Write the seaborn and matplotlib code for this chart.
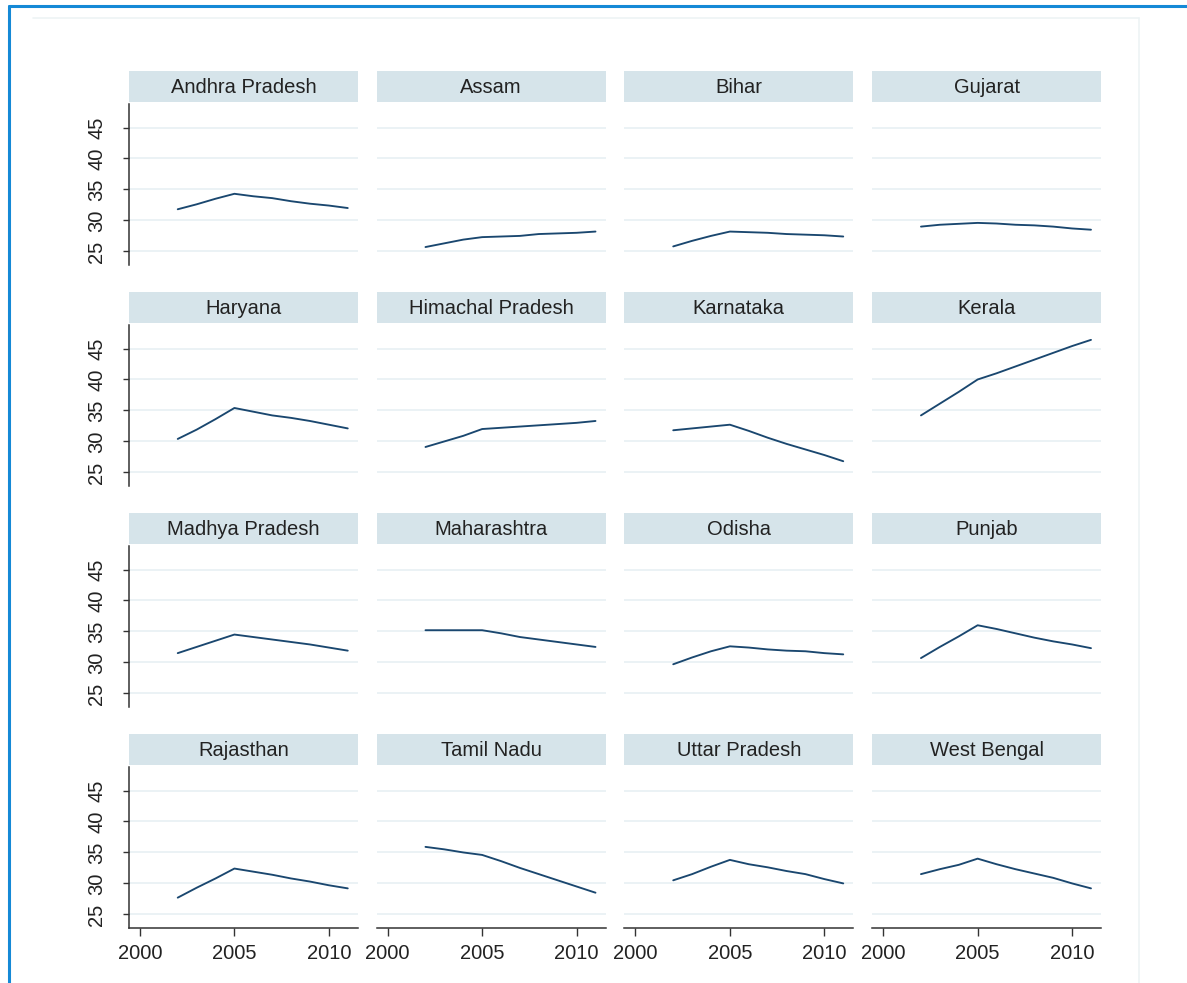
import numpy as np
import pandas as pd
import matplotlib
matplotlib.use("Agg")
import matplotlib.pyplot as plt
import seaborn as sns
from matplotlib.patches import Rectangle
from matplotlib.lines import Line2D


YEARS = [2002, 2003, 2004, 2005, 2006, 2007, 2008, 2009, 2010, 2011]

STATES = [
    "Andhra Pradesh", "Assam", "Bihar", "Gujarat",
    "Haryana", "Himachal Pradesh", "Karnataka", "Kerala",
    "Madhya Pradesh", "Maharashtra", "Odisha", "Punjab",
    "Rajasthan", "Tamil Nadu", "Uttar Pradesh", "West Bengal",
]

andhra_pradesh   = [31.8, 32.6, 33.5, 34.3, 33.9, 33.6, 33.1, 32.7, 32.4, 32.0]
assam            = [25.7, 26.3, 26.9, 27.3, 27.4, 27.5, 27.8, 27.9, 28.0, 28.2]
bihar            = [25.8, 26.7, 27.5, 28.2, 28.1, 28.0, 27.8, 27.7, 27.6, 27.4]
gujarat          = [29.0, 29.3, 29.45, 29.6, 29.5, 29.3, 29.2, 29.0, 28.7, 28.5]
haryana          = [30.4, 31.9, 33.6, 35.4, 34.8, 34.2, 33.8, 33.3, 32.7, 32.1]
himachal_pradesh = [29.1, 30.0, 30.9, 32.0, 32.2, 32.4, 32.6, 32.8, 33.0, 33.3]
karnataka        = [31.8, 32.1, 32.4, 32.7, 31.7, 30.6, 29.6, 28.7, 27.8, 26.8]
kerala           = [34.2, 36.1, 38.0, 40.0, 41.0, 42.1, 43.2, 44.3, 45.4, 46.4]
madhya_pradesh   = [31.5, 32.5, 33.5, 34.5, 34.1, 33.7, 33.3, 32.9, 32.4, 31.9]
maharashtra      = [35.2, 35.2, 35.2, 35.2, 34.7, 34.1, 33.7, 33.3, 32.9, 32.5]
odisha           = [29.7, 30.8, 31.8, 32.6, 32.4, 32.1, 31.9, 31.8, 31.5, 31.3]
punjab           = [30.7, 32.5, 34.2, 36.0, 35.4, 34.7, 34.0, 33.4, 32.9, 32.3]
rajasthan        = [27.7, 29.3, 30.8, 32.4, 31.9, 31.4, 30.8, 30.3, 29.7, 29.2]
tamil_nadu       = [35.9, 35.5, 35.0, 34.6, 33.6, 32.5, 31.5, 30.5, 29.5, 28.5]
uttar_pradesh    = [30.5, 31.5, 32.7, 33.8, 33.1, 32.6, 32.0, 31.5, 30.7, 30.0]
west_bengal      = [31.5, 32.3, 33.0, 34.0, 33.1, 32.3, 31.6, 30.9, 30.0, 29.2]

SERIES = [
    andhra_pradesh, assam, bihar, gujarat,
    haryana, himachal_pradesh, karnataka, kerala,
    madhya_pradesh, maharashtra, odisha, punjab,
    rajasthan, tamil_nadu, uttar_pradesh, west_bengal,
]

Y_TICKS = [25, 30, 35, 40, 45]
X_TICKS = [2000, 2005, 2010]

LINE_COLOR   = "#1a476f"
STRIP_COLOR  = "#d6e4ea"
GRID_COLOR   = "#e8f0f3"
AXIS_COLOR   = "#333333"
TEXT_COLOR   = "#222222"
BORDER_COLOR = "#1589d6"
NARROW_FONT  = ["Liberation Sans Narrow", "Liberation Sans", "DejaVu Sans"]
REGULAR_FONT = ["Liberation Sans", "DejaVu Sans"]


def build_frame():
    rows = []
    for state, values in zip(STATES, SERIES):
        for year, value in zip(YEARS, values):
            rows.append({"state": state, "year": year, "value": value})
    return pd.DataFrame(rows)


def draw_panels(df):
    sns.set_style("white")
    plt.rcParams["font.family"] = REGULAR_FONT

    W, H = 1187, 983
    fig, axes = plt.subplots(4, 4, figsize=(W / 100, H / 100), dpi=100, sharex=True, sharey=True)
    fig.subplots_adjust(left=129 / W, right=1101 / W, top=1 - 104 / H, bottom=1 - 928 / H,
                        wspace=19 / 229, hspace=60 / 161)

    # outer frames (blue border + faint graph region)
    fig.add_artist(Line2D([8.5 / W, 8.5 / W], [0, 1 - 6 / H], color=BORDER_COLOR, lw=2.2,
                          transform=fig.transFigure))
    fig.add_artist(Line2D([8.5 / W, 1], [1 - 6 / H, 1 - 6 / H], color=BORDER_COLOR, lw=2.2,
                          transform=fig.transFigure))
    fig.add_artist(Line2D([33 / W, 1139 / W], [1 - 18 / H, 1 - 18 / H], color="#edf3f5", lw=1.2,
                          transform=fig.transFigure))
    fig.add_artist(Line2D([1139 / W, 1139 / W], [0, 1 - 18 / H], color="#edf3f5", lw=1.2,
                          transform=fig.transFigure))

    for i, (ax, state) in enumerate(zip(axes.flat, STATES)):
        row, col = divmod(i, 4)
        sub = df[df["state"] == state]

        for yt in Y_TICKS:
            ax.axhline(yt, color=GRID_COLOR, lw=1.2, zorder=0)

        sns.lineplot(data=sub, x="year", y="value", ax=ax, color=LINE_COLOR, lw=1.35,
                     legend=False, zorder=3)

        ax.set_xlim(1999.42, 2011.53)
        ax.set_ylim(22.8, 48.8)
        ax.set_xticks(X_TICKS)
        ax.set_yticks(Y_TICKS)
        ax.set_xlabel("")
        ax.set_ylabel("")
        ax.grid(False)

        for side in ["top", "right", "left", "bottom"]:
            ax.spines[side].set_visible(False)

        if col == 0:
            ax.spines["left"].set_visible(True)
            ax.spines["left"].set_color(AXIS_COLOR)
            ax.spines["left"].set_linewidth(1.1)
            ax.tick_params(axis="y", which="both", left=True, length=4.5, width=1.0,
                           color=AXIS_COLOR, pad=12, labelsize=14.5, labelcolor=TEXT_COLOR,
                           labelrotation=90)
            for lab in ax.get_yticklabels():
                lab.set_va("center")
        else:
            ax.tick_params(axis="y", left=False, labelleft=False)

        if row == 3:
            ax.spines["bottom"].set_visible(True)
            ax.spines["bottom"].set_color(AXIS_COLOR)
            ax.spines["bottom"].set_linewidth(1.1)
            ax.tick_params(axis="x", which="both", bottom=True, length=5.5, width=1.0,
                           color=AXIS_COLOR, pad=6, labelsize=14.5, labelcolor=TEXT_COLOR,
                           labelbottom=True)
            for lab in ax.get_xticklabels():
                lab.set_family(NARROW_FONT)
        else:
            ax.tick_params(axis="x", bottom=False, labelbottom=False)

        # strip header above each panel
        ax.add_patch(Rectangle((0, 1.012), 1, 0.193, transform=ax.transAxes,
                               facecolor=STRIP_COLOR, edgecolor="none", clip_on=False))
        ax.text(0.5, 1.105, state, transform=ax.transAxes, ha="center", va="center",
                fontsize=14.5, family=NARROW_FONT, color=TEXT_COLOR)

    return fig


if __name__ == "__main__":
    data = build_frame()
    figure = draw_panels(data)
    figure.savefig("out.png", dpi=100)
    plt.close(figure)
